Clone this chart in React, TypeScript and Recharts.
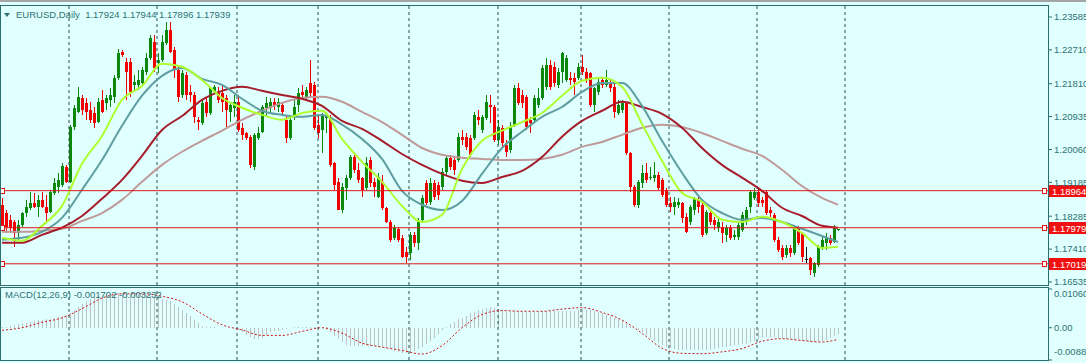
import React from 'react';
import { ComposedChart, Bar, Line, XAxis, YAxis, ReferenceLine } from 'recharts';

// EURUSD daily bars, oldest first (the last one is the bar still forming)
const opens = [
  1.1859, 1.1837, 1.1819, 1.1813, 1.1784, 1.1805, 1.1837, 1.1851, 1.1864, 1.1853,
  1.1872, 1.1853, 1.1840, 1.1891, 1.1907, 1.1912, 1.1960, 1.1920, 1.2066, 1.2106,
  1.2143, 1.2130, 1.2111, 1.2103, 1.2079, 1.2138, 1.2130, 1.2138, 1.2146, 1.2197,
  1.2266, 1.2239, 1.2239, 1.2178, 1.2178, 1.2183, 1.2212, 1.2250, 1.2292, 1.2236,
  1.2244, 1.2290, 1.2324, 1.2271, 1.2218, 1.2151, 1.2204, 1.2159, 1.2151, 1.2085,
  1.2077, 1.2133, 1.2103, 1.2159, 1.2159, 1.2157, 1.2143, 1.2106, 1.2117, 1.2133,
  1.2064, 1.2050, 1.2040, 1.1960, 1.2037, 1.2053, 1.2117, 1.2117, 1.2133, 1.2119,
  1.2125, 1.2085, 1.2037, 1.2093, 1.2125, 1.2159, 1.2146, 1.2183, 1.2178, 1.2072,
  1.2058, 1.2090, 1.2093, 1.1970, 1.1920, 1.1845, 1.1904, 1.1931, 1.1986, 1.1952,
  1.1931, 1.1904, 1.1978, 1.1920, 1.1880, 1.1920, 1.1851, 1.1813, 1.1771, 1.1795,
  1.1771, 1.1734, 1.1731, 1.1779, 1.1758, 1.1819, 1.1917, 1.1867, 1.1917, 1.1912,
  1.1907, 1.1946, 1.1984, 1.1978, 1.1978, 1.2040, 1.2040, 1.2037, 1.2037, 1.2093,
  1.2058, 1.2090, 1.2125, 1.2119, 1.2032, 1.2064, 1.2018, 1.2005, 1.2072, 1.2170,
  1.2151, 1.2146, 1.2085, 1.2085, 1.2125, 1.2143, 1.2173, 1.2231, 1.2226, 1.2178,
  1.2212, 1.2191, 1.2197, 1.2197, 1.2197, 1.2226, 1.2212, 1.2210, 1.2125, 1.2159,
  1.2191, 1.2178, 1.2183, 1.2173, 1.2103, 1.2111, 1.2130, 1.1997, 1.1907, 1.1859,
  1.1917, 1.1944, 1.1931, 1.1931, 1.1938, 1.1925, 1.1899, 1.1864, 1.1853, 1.1859,
  1.1864, 1.1827, 1.1813, 1.1845, 1.1872, 1.1859, 1.1784, 1.1837, 1.1819, 1.1798,
  1.1800, 1.1779, 1.1798, 1.1774, 1.1774, 1.1792, 1.1813, 1.1853, 1.1877, 1.1893,
  1.1872, 1.1893, 1.1845, 1.1832, 1.1766, 1.1744, 1.1726, 1.1744, 1.1731, 1.1798,
  1.1784, 1.1714, 1.1718, 1.1678, 1.1699, 1.1747, 1.1758, 1.1771, 1.1760, 1.17924,
];
const highs = [
  1.1877, 1.1845, 1.1832, 1.1819, 1.1819, 1.1840, 1.1872, 1.1893, 1.1891, 1.1885,
  1.1893, 1.1885, 1.1899, 1.1931, 1.1944, 1.1970, 1.1965, 1.2072, 1.2125, 1.2173,
  1.2151, 1.2143, 1.2133, 1.2119, 1.2143, 1.2165, 1.2151, 1.2170, 1.2204, 1.2274,
  1.2271, 1.2250, 1.2250, 1.2204, 1.2218, 1.2226, 1.2263, 1.2311, 1.2311, 1.2263,
  1.2311, 1.2345, 1.2345, 1.2279, 1.2231, 1.2218, 1.2212, 1.2178, 1.2159, 1.2093,
  1.2138, 1.2143, 1.2173, 1.2178, 1.2173, 1.2178, 1.2151, 1.2133, 1.2151, 1.2151,
  1.2077, 1.2053, 1.2045, 1.2050, 1.2066, 1.2125, 1.2146, 1.2143, 1.2143, 1.2143,
  1.2130, 1.2098, 1.2093, 1.2138, 1.2170, 1.2178, 1.2173, 1.2244, 1.2186, 1.2098,
  1.2103, 1.2103, 1.2098, 1.1973, 1.1931, 1.1917, 1.1938, 1.1992, 1.1992, 1.1970,
  1.1933, 1.1986, 1.1986, 1.1931, 1.1944, 1.1938, 1.1853, 1.1819, 1.1805, 1.1800,
  1.1779, 1.1747, 1.1787, 1.1787, 1.1824, 1.1885, 1.1925, 1.1931, 1.1925, 1.1920,
  1.1957, 1.1992, 1.1992, 1.1986, 1.2050, 1.2058, 1.2050, 1.2045, 1.2106, 1.2111,
  1.2098, 1.2151, 1.2151, 1.2125, 1.2085, 1.2072, 1.2032, 1.2079, 1.2178, 1.2183,
  1.2165, 1.2151, 1.2093, 1.2151, 1.2170, 1.2231, 1.2250, 1.2244, 1.2239, 1.2223,
  1.2266, 1.2258, 1.2212, 1.2210, 1.2236, 1.2258, 1.2223, 1.2212, 1.2173, 1.2197,
  1.2199, 1.2218, 1.2191, 1.2183, 1.2138, 1.2138, 1.2133, 1.2000, 1.1912, 1.1925,
  1.1965, 1.1970, 1.1960, 1.1973, 1.1946, 1.1931, 1.1904, 1.1880, 1.1880, 1.1877,
  1.1867, 1.1837, 1.1859, 1.1880, 1.1880, 1.1864, 1.1845, 1.1845, 1.1827, 1.1824,
  1.1813, 1.1805, 1.1805, 1.1792, 1.1813, 1.1840, 1.1853, 1.1899, 1.1904, 1.1907,
  1.1880, 1.1899, 1.1853, 1.1837, 1.1774, 1.1752, 1.1752, 1.1752, 1.1805, 1.1803,
  1.1787, 1.1747, 1.1720, 1.1707, 1.1752, 1.1774, 1.1784, 1.1779, 1.1805, 1.17944,
];
const lows = [
  1.1798, 1.1784, 1.1784, 1.1747, 1.1766, 1.1800, 1.1827, 1.1845, 1.1851, 1.1827,
  1.1851, 1.1811, 1.1837, 1.1885, 1.1891, 1.1907, 1.1917, 1.1917, 1.2058, 1.2103,
  1.2098, 1.2085, 1.2077, 1.2064, 1.2077, 1.2103, 1.2111, 1.2119, 1.2130, 1.2191,
  1.2252, 1.2138, 1.2146, 1.2165, 1.2165, 1.2178, 1.2204, 1.2244, 1.2212, 1.2210,
  1.2239, 1.2284, 1.2263, 1.2197, 1.2133, 1.2143, 1.2138, 1.2133, 1.2077, 1.2058,
  1.2072, 1.2093, 1.2098, 1.2157, 1.2130, 1.2106, 1.2066, 1.2079, 1.2093, 1.2053,
  1.2032, 1.2032, 1.1957, 1.1952, 1.2032, 1.2050, 1.2093, 1.2106, 1.2111, 1.2106,
  1.2098, 1.2024, 1.2032, 1.2085, 1.2106, 1.2143, 1.2138, 1.2146, 1.2058, 1.2037,
  1.1997, 1.2050, 1.1960, 1.1899, 1.1845, 1.1837, 1.1872, 1.1925, 1.1944, 1.1917,
  1.1880, 1.1899, 1.1907, 1.1880, 1.1877, 1.1845, 1.1811, 1.1760, 1.1766, 1.1760,
  1.1718, 1.1704, 1.1712, 1.1747, 1.1739, 1.1813, 1.1859, 1.1859, 1.1872, 1.1872,
  1.1899, 1.1938, 1.1952, 1.1938, 1.1973, 1.2018, 1.2005, 1.1986, 1.2032, 1.2072,
  1.2050, 1.2085, 1.2077, 1.2026, 1.2018, 1.2013, 1.1986, 1.1997, 1.2066, 1.2125,
  1.2117, 1.2058, 1.2050, 1.2077, 1.2117, 1.2138, 1.2165, 1.2165, 1.2173, 1.2170,
  1.2183, 1.2186, 1.2178, 1.2151, 1.2191, 1.2204, 1.2183, 1.2119, 1.2106, 1.2151,
  1.2170, 1.2173, 1.2159, 1.2090, 1.2098, 1.2103, 1.1992, 1.1893, 1.1853, 1.1851,
  1.1904, 1.1917, 1.1925, 1.1920, 1.1899, 1.1880, 1.1853, 1.1840, 1.1832, 1.1851,
  1.1811, 1.1784, 1.1805, 1.1832, 1.1837, 1.1774, 1.1779, 1.1805, 1.1792, 1.1787,
  1.1758, 1.1760, 1.1766, 1.1766, 1.1766, 1.1787, 1.1805, 1.1837, 1.1872, 1.1853,
  1.1853, 1.1832, 1.1827, 1.1760, 1.1734, 1.1712, 1.1718, 1.1720, 1.1726, 1.1752,
  1.1707, 1.1704, 1.1673, 1.1667, 1.1694, 1.1739, 1.1739, 1.1752, 1.1758, 1.17896,
];
const closes = [
  1.1805, 1.1800, 1.1798, 1.1784, 1.1805, 1.1837, 1.1853, 1.1864, 1.1853, 1.1872,
  1.1853, 1.1837, 1.1893, 1.1917, 1.1925, 1.1962, 1.1920, 1.2066, 1.2117, 1.2146,
  1.2111, 1.2106, 1.2085, 1.2077, 1.2133, 1.2106, 1.2143, 1.2151, 1.2197, 1.2263,
  1.2258, 1.2212, 1.2159, 1.2186, 1.2191, 1.2218, 1.2250, 1.2303, 1.2223, 1.2244,
  1.2292, 1.2324, 1.2266, 1.2218, 1.2146, 1.2210, 1.2151, 1.2151, 1.2093, 1.2079,
  1.2130, 1.2103, 1.2170, 1.2173, 1.2138, 1.2133, 1.2111, 1.2125, 1.2133, 1.2058,
  1.2045, 1.2037, 1.1965, 1.2045, 1.2050, 1.2119, 1.2130, 1.2133, 1.2125, 1.2133,
  1.2106, 1.2037, 1.2085, 1.2119, 1.2157, 1.2151, 1.2165, 1.2157, 1.2064, 1.2050,
  1.2098, 1.2098, 1.1965, 1.1912, 1.1845, 1.1907, 1.1931, 1.1986, 1.1952, 1.1925,
  1.1899, 1.1970, 1.1917, 1.1907, 1.1933, 1.1851, 1.1813, 1.1766, 1.1798, 1.1766,
  1.1720, 1.1720, 1.1779, 1.1758, 1.1813, 1.1877, 1.1864, 1.1917, 1.1880, 1.1885,
  1.1946, 1.1984, 1.1960, 1.1952, 1.2040, 1.2032, 1.2013, 1.1992, 1.2098, 1.2085,
  1.2093, 1.2133, 1.2119, 1.2032, 1.2066, 1.2024, 1.2000, 1.2066, 1.2170, 1.2130,
  1.2130, 1.2066, 1.2077, 1.2143, 1.2143, 1.2223, 1.2231, 1.2173, 1.2183, 1.2212,
  1.2263, 1.2250, 1.2191, 1.2186, 1.2226, 1.2212, 1.2191, 1.2125, 1.2170, 1.2186,
  1.2178, 1.2191, 1.2170, 1.2106, 1.2125, 1.2130, 1.1997, 1.1907, 1.1859, 1.1920,
  1.1944, 1.1925, 1.1933, 1.1938, 1.1904, 1.1885, 1.1859, 1.1853, 1.1867, 1.1867,
  1.1824, 1.1787, 1.1853, 1.1877, 1.1853, 1.1779, 1.1840, 1.1813, 1.1805, 1.1813,
  1.1784, 1.1798, 1.1771, 1.1779, 1.1805, 1.1832, 1.1845, 1.1893, 1.1893, 1.1864,
  1.1864, 1.1837, 1.1837, 1.1766, 1.1739, 1.1720, 1.1744, 1.1731, 1.1798, 1.1758,
  1.1720, 1.1714, 1.1686, 1.1704, 1.1747, 1.1766, 1.1771, 1.1758, 1.1798, 1.17939,
];

// moving averages and MACD signal, read every 5th bar plus the last bar
const sampleBars = [
  0, 5, 10, 15, 20, 25, 30, 35, 40, 45, 50, 55, 60, 65, 70, 75, 80, 85, 90, 95, 100,
  105, 110, 115, 120, 125, 130, 135, 140, 145, 150, 155, 160, 165, 170, 175, 180, 185,
  190, 195, 200, 205, 209,
];
const maFast = [
  1.1771, 1.1763, 1.1803, 1.1856, 1.1968, 1.2042, 1.2138, 1.2175, 1.2234, 1.2226,
  1.2191, 1.2143, 1.2117, 1.2098, 1.2085, 1.2103, 1.2109, 1.2034, 1.1973, 1.1920,
  1.1856, 1.1813, 1.1832, 1.1954, 1.2029, 1.2056, 1.2079, 1.2103, 1.2149, 1.2189,
  1.2197, 1.2173, 1.2074, 1.1976, 1.1891, 1.1867, 1.1819, 1.1813, 1.1827, 1.1813,
  1.1784, 1.1744, 1.1747,
];
const maMid = [
  1.1766, 1.1771, 1.1787, 1.1824, 1.1899, 1.1978, 1.2069, 1.2149, 1.2202, 1.2223,
  1.2194, 1.2178, 1.2141, 1.2109, 1.2098, 1.2093, 1.2098, 1.2072, 1.2034, 1.1981,
  1.1896, 1.1859, 1.1845, 1.1869, 1.1941, 1.2010, 1.2053, 1.2093, 1.2119, 1.2159,
  1.2183, 1.2183, 1.2122, 1.2029, 1.1944, 1.1872, 1.1837, 1.1819, 1.1824, 1.1813,
  1.1795, 1.1776, 1.1760,
];
const maSlow = [
  1.1758, 1.1758, 1.1779, 1.1798, 1.1829, 1.1875, 1.1925, 1.1989, 1.2058, 1.2095,
  1.2138, 1.2162, 1.2173, 1.2162, 1.2151, 1.2141, 1.2122, 1.2082, 1.2061, 1.2029,
  1.1994, 1.1965, 1.1941, 1.1923, 1.1917, 1.1933, 1.1949, 1.1986, 1.2040, 1.2082,
  1.2109, 1.2133, 1.2119, 1.2101, 1.2064, 1.2010, 1.1965, 1.1931, 1.1896, 1.1851,
  1.1829, 1.1803, 1.1798,
];
const maLong = [
  1.1787, 1.1787, 1.1790, 1.1795, 1.1816, 1.1837, 1.1872, 1.1920, 1.1965, 1.2000,
  1.2029, 1.2056, 1.2085, 1.2109, 1.2130, 1.2143, 1.2146, 1.2133, 1.2106, 1.2079,
  1.2045, 1.2010, 1.1992, 1.1984, 1.1981, 1.1978, 1.1978, 1.1981, 1.1992, 1.2013,
  1.2026, 1.2045, 1.2064, 1.2072, 1.2066, 1.2050, 1.2029, 1.2008, 1.1989, 1.1952,
  1.1909, 1.1877, 1.1859,
];
const macdSignal = [
  -0.0007, 0.0000, 0.0015, 0.0027, 0.0052, 0.0081, 0.0093, 0.0093, 0.0086, 0.0071,
  0.0038, 0.0008, -0.0006, -0.0021, -0.0021, -0.0010, 0.0000, -0.0015, -0.0042, -0.0053,
  -0.0062, -0.0072, -0.0049, 0.0000, 0.0036, 0.0047, 0.0045, 0.0045, 0.0051, 0.0055,
  0.0042, 0.0021, -0.0015, -0.0056, -0.0070, -0.0071, -0.0066, -0.0057, -0.0037, -0.0030,
  -0.0035, -0.0039, -0.0032,
];

// MACD(12,26,9) main line, one value per bar (drawn as histogram)
const macdMain = [
  0.0003, 0.0003, 0.0004, 0.0007, 0.0009, 0.0012, 0.0014, 0.0016, 0.0019, 0.0020,
  0.0022, 0.0023, 0.0024, 0.0026, 0.0029, 0.0032, 0.0035, 0.0039, 0.0048, 0.0058,
  0.0065, 0.0072, 0.0079, 0.0083, 0.0087, 0.0089, 0.0091, 0.0093, 0.0093, 0.0094,
  0.0094, 0.0093, 0.0093, 0.0092, 0.0091, 0.0091, 0.0090, 0.0088, 0.0086, 0.0083,
  0.0079, 0.0076, 0.0072, 0.0066, 0.0057, 0.0049, 0.0041, 0.0033, 0.0022, 0.0012,
  0.0006, 0.0003, 0.0001, 0.0001, 0, 0, 0, -0.0001, -0.0002, -0.0005,
  -0.0011, -0.0019, -0.0026, -0.0031, -0.0030, -0.0028, -0.0020, -0.0013, -0.0010, -0.0008,
  -0.0005, -0.0003, 0, 0.0001, 0.0002, 0.0002, 0.0002, 0.0002, 0.0001, 0,
  -0.0002, -0.0007, -0.0013, -0.0022, -0.0032, -0.0040, -0.0046, -0.0049, -0.0051, -0.0051,
  -0.0051, -0.0051, -0.0051, -0.0051, -0.0052, -0.0054, -0.0056, -0.0059, -0.0063, -0.0066,
  -0.0068, -0.0070, -0.0068, -0.0065, -0.0059, -0.0054, -0.0045, -0.0037, -0.0028, -0.0017,
  -0.0007, 0.0001, 0.0009, 0.0017, 0.0023, 0.0028, 0.0033, 0.0039, 0.0044, 0.0048,
  0.0050, 0.0053, 0.0056, 0.0053, 0.0051, 0.0049, 0.0047, 0.0047, 0.0047, 0.0046,
  0.0044, 0.0043, 0.0042, 0.0042, 0.0043, 0.0045, 0.0046, 0.0046, 0.0046, 0.0046,
  0.0046, 0.0046, 0.0046, 0.0047, 0.0049, 0.0050, 0.0049, 0.0048, 0.0046, 0.0044,
  0.0040, 0.0036, 0.0032, 0.0028, 0.0024, 0.0018, 0.0012, 0.0006, 0, -0.0006,
  -0.0013, -0.0020, -0.0027, -0.0035, -0.0042, -0.0048, -0.0052, -0.0056, -0.0059, -0.0061,
  -0.0062, -0.0062, -0.0062, -0.0062, -0.0062, -0.0062, -0.0061, -0.0060, -0.0058, -0.0056,
  -0.0054, -0.0053, -0.0050, -0.0048, -0.0047, -0.0045, -0.0044, -0.0040, -0.0036, -0.0032,
  -0.0027, -0.0025, -0.0025, -0.0026, -0.0027, -0.0028, -0.0030, -0.0031, -0.0033, -0.0034,
  -0.0036, -0.0037, -0.0038, -0.0039, -0.0038, -0.0036, -0.0034, -0.0029, -0.0023, -0.0017,
];

const priceTicks = [1.23585, 1.2271, 1.2181, 1.20935, 1.2006, 1.19185, 1.18285, 1.1741, 1.16535];
const macdTicks = [0.0106, 0, -0.00883];
const levels = [1.18964, 1.17979, 1.17019];
const monthLines = [16.75, 38.75, 58.75, 79, 101.75, 124, 144.75, 166.75, 188.75, 210.75];
const timeTicks = [16, 32, 48, 64, 80, 96, 112, 128, 144, 160, 176, 192, 208];

const BG = '#E0FFFF';
const FRAME = '#2B6E6E';
const TEXT = '#2E7272';
const GRID = '#2F4F4F';
const BULL = '#0B870B';
const BEAR = '#F00000';
const DOJI = '#1A1A1A';
const LEVEL = '#E01818';
const FONT = '"Liberation Sans", Arial, sans-serif';
const X_DOMAIN: [number, number] = [-0.5, 261.5];

const rows: any[] = opens.map((o, k) => ({
  k,
  o,
  h: highs[k],
  l: lows[k],
  c: closes[k],
  range: [lows[k], highs[k]],
  macd: macdMain[k],
}));
sampleBars.forEach((k, j) => {
  Object.assign(rows[k], {
    fast: maFast[j],
    mid: maMid[j],
    slow: maSlow[j],
    long: maLong[j],
    signal: macdSignal[j],
  });
});

const Candle = (props: any) => {
  const { x, y, width, height, payload } = props;
  if (!payload || height == null) return null;
  const { o, h, l, c } = payload;
  const top = Math.min(y, y + height);
  const span = Math.abs(height);
  const ppu = h > l ? span / (h - l) : 0;
  const py = (p: number) => top + (h - p) * ppu;
  const cx = Math.round(x + width / 2);
  const color = c > o ? BULL : c < o ? BEAR : DOJI;
  const bodyTop = py(Math.max(o, c));
  const bodyH = Math.max(1, py(Math.min(o, c)) - bodyTop);
  return (
    <g shapeRendering="crispEdges">
      <rect x={cx} y={top} width={1} height={Math.max(1, span)} fill={color} />
      <rect x={cx - 1} y={bodyTop} width={3} height={bodyH} fill={color} />
    </g>
  );
};

const HistBar = (props: any) => {
  const { x, y, width, height } = props;
  if (!height) return null;
  const top = Math.min(y, y + height);
  return (
    <rect
      x={Math.round(x + width / 2)}
      y={top}
      width={1}
      height={Math.abs(height)}
      fill="#C0C0C0"
      shapeRendering="crispEdges"
    />
  );
};

const LevelTag = ({ viewBox, text }: any) => {
  if (!viewBox) return null;
  const y = Math.round(viewBox.y);
  const right = viewBox.x + viewBox.width;
  return (
    <g>
      <rect x={0.5} y={y - 2.5} width={4} height={5} fill="#fff" stroke={LEVEL} />
      <rect x={right - 5.5} y={y - 2.5} width={4} height={5} fill="#fff" stroke={LEVEL} />
      <rect x={right + 1} y={y - 6} width={40} height={12} fill="#F01010" />
      <text x={right + 4} y={y + 3.5} fill="#fff" fontSize={9.5} fontFamily={FONT}>
        {text}
      </text>
    </g>
  );
};

const MacdTick = (props: any) => {
  const { x, y, payload } = props;
  const v = payload.value;
  const dy = v > 0 ? 5 : v < 0 ? -8 : 0;
  const label = v > 0 ? v.toFixed(6) : v < 0 ? v.toFixed(5) : '0.00';
  return (
    <text x={x} y={y + dy} dy="0.35em" fill={TEXT} fontSize={9.5} fontFamily={FONT}>
      {label}
    </text>
  );
};

const frame = (top: number, height: number): React.CSSProperties => ({
  position: 'absolute',
  left: 0,
  top,
  width: 1049,
  height,
  boxSizing: 'border-box',
  border: `1px solid ${FRAME}`,
  pointerEvents: 'none',
});

export default function App() {
  return (
    <div
      style={{
        position: 'absolute',
        left: 0,
        top: 0,
        width: 1086,
        height: 363,
        background: BG,
        overflow: 'hidden',
        fontFamily: FONT,
      }}
    >
      <div style={{ position: 'absolute', left: 0, top: 0, width: 1086, height: 2, background: '#A4A4A4' }} />

      <div style={{ position: 'absolute', left: 0, top: 0 }}>
        <ComposedChart width={1086} height={286} data={rows} margin={{ top: 6, right: 0, bottom: 1, left: 0 }}>
          <XAxis type="number" dataKey="k" domain={X_DOMAIN} allowDataOverflow hide />
          <YAxis
            orientation="right"
            width={38}
            domain={[1.16455, 1.23877]}
            allowDataOverflow
            ticks={priceTicks}
            interval={0}
            tickFormatter={(v: number) => v.toFixed(5)}
            tick={{ fill: TEXT, fontSize: 9.5, fontFamily: FONT }}
            tickSize={4}
            tickLine={{ stroke: FRAME }}
            axisLine={false}
          />
          {monthLines.map((m) => (
            <ReferenceLine key={m} x={m} stroke={GRID} strokeDasharray="3 3" />
          ))}
          <Bar dataKey="range" barSize={3} shape={(p: any) => <Candle {...p} />} isAnimationActive={false} />
          <Line dataKey="long" type="monotone" stroke="#C09A9A" strokeWidth={2} dot={false} connectNulls isAnimationActive={false} />
          <Line dataKey="slow" type="monotone" stroke="#A51C2A" strokeWidth={2} dot={false} connectNulls isAnimationActive={false} />
          <Line dataKey="mid" type="monotone" stroke="#5F9EA0" strokeWidth={2} dot={false} connectNulls isAnimationActive={false} />
          <Line dataKey="fast" type="monotone" stroke="#ADFF2F" strokeWidth={2} dot={false} connectNulls isAnimationActive={false} />
          {levels.map((v) => (
            <ReferenceLine
              key={v}
              y={v}
              stroke={LEVEL}
              label={(p: any) => <LevelTag viewBox={p.viewBox} text={v.toFixed(5)} />}
            />
          ))}
        </ComposedChart>
      </div>

      <div style={{ position: 'absolute', left: 0, top: 286 }}>
        <ComposedChart width={1086} height={77} data={rows} margin={{ top: 3, right: 0, bottom: 0, left: 0 }}>
          <XAxis
            type="number"
            dataKey="k"
            domain={X_DOMAIN}
            allowDataOverflow
            ticks={timeTicks}
            interval={0}
            height={3}
            tick={false}
            tickSize={3}
            tickLine={{ stroke: FRAME }}
            axisLine={false}
          />
          <YAxis
            orientation="right"
            width={38}
            domain={[-0.00883, 0.0106]}
            allowDataOverflow
            ticks={macdTicks}
            interval={0}
            tick={(p: any) => <MacdTick {...p} />}
            tickSize={4}
            tickLine={{ stroke: FRAME }}
            axisLine={false}
          />
          {monthLines.map((m) => (
            <ReferenceLine key={m} x={m} stroke={GRID} strokeDasharray="3 3" />
          ))}
          <Bar dataKey="macd" barSize={1} shape={(p: any) => <HistBar {...p} />} isAnimationActive={false} />
          <Line
            dataKey="signal"
            type="monotone"
            stroke="#D01515"
            strokeWidth={1}
            strokeDasharray="2 2"
            dot={false}
            connectNulls
            isAnimationActive={false}
          />
        </ComposedChart>
      </div>

      <div style={frame(5, 281)} />
      <div style={frame(287, 74)} />

      <svg style={{ position: 'absolute', left: 3, top: 12 }} width={8} height={6}>
        <polygon points="1,1 7,1 4,5" fill={TEXT} />
      </svg>
      <div style={{ position: 'absolute', left: 16, top: 9, fontSize: 9.5, lineHeight: '12px', color: TEXT, whiteSpace: 'pre' }}>
        EURUSD,Daily  1.17924 1.17944 1.17896 1.17939
      </div>
      <div style={{ position: 'absolute', left: 5, top: 289, fontSize: 9.5, lineHeight: '12px', color: TEXT, whiteSpace: 'pre' }}>
        MACD(12,26,9) -0.001702 -0.003232
      </div>
    </div>
  );
}
